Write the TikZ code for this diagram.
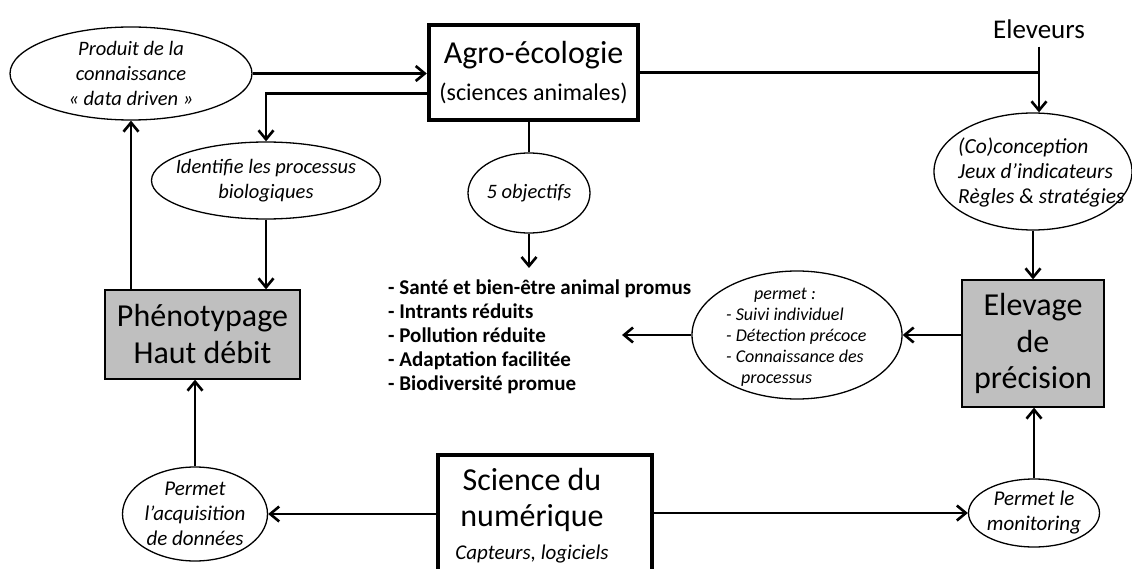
\documentclass[tikz,border=0pt]{standalone}
\usepackage{fontspec}
\setmainfont{Carlito}
\usetikzlibrary{shapes.geometric,arrows.meta}

\begin{document}
\begin{tikzpicture}[x=1pt,y=-1pt,
    >={Straight Barb[length=9pt,width=15pt]},
    fleche/.style={line width=2.6pt},
    bulle/.style={draw,ellipse,line width=1.3pt,inner sep=0pt},
    cadre/.style={draw,line width=4.5pt,inner sep=0pt,align=center},
    gris/.style={draw,fill=black!25,line width=1.3pt,inner sep=0pt,align=center,font=\fontsize{32}{37}\selectfont},
    txt/.style={font=\fontsize{20.5}{25}\selectfont\itshape,align=center,inner sep=0pt}]
        \useasboundingbox (0,0) rectangle (1132,569);

        % the boxes
        \node[cadre, minimum width=209, minimum height=95, font=\fontsize{32}{37}\selectfont] (agro) at (533.5,72.5)
            {Agro-écologie\\{\fontsize{24}{28}\selectfont (sciences animales)}};
        \node[gris, minimum width=195, minimum height=89] (pheno) at (202.5,334.5)
            {Phénotypage\\Haut débit};
        \node[gris, minimum width=142, minimum height=127, font=\fontsize{32}{36.5}\selectfont] (elevage) at (1033,343.5)
            {Elevage\\de\\précision};
        \node[cadre, minimum width=214, minimum height=160] (numerique) at (545,535) {};
        \node[align=center, inner sep=0pt, font=\fontsize{32}{36}\selectfont] (numerique-t) at (532,516)
            {Science du\\numérique\\[-3pt]{\fontsize{21}{24}\selectfont\itshape Capteurs, logiciels}};

        % the ellipses (the texts are put on top of them)
        \node[bulle, minimum width=242, minimum height=93] (produit) at (131,73.5) {};
        \node[txt] (produit-t) at (produit) {Produit de la\\connaissance\\« data driven »};
        \node[bulle, minimum width=229, minimum height=77] (identifie) at (266,180.5) {};
        \node[txt] (identifie-t) at (identifie) {Identifie les processus\\biologiques};
        \node[bulle, minimum width=122, minimum height=80] (objectifs) at (529,193) {};
        \node[txt] (objectifs-t) at (objectifs) {5 objectifs};
        \node[bulle, minimum width=198, minimum height=117] (coconception) at (1033,171.5) {};
        \node[txt, align=left, anchor=west, font=\fontsize{21.5}{25}\selectfont\itshape] (coconception-t) at (958,172)
            {(Co)conception\\Jeux d'indicateurs\\Règles \& stratégies};
        \node[bulle, minimum width=210, minimum height=128] (permet) at (797,335) {};
        \node[txt, align=left, anchor=west, font=\fontsize{18}{21}\selectfont\itshape] (permet-t) at (726,337)
            {\hspace{28pt}permet :\\- Suivi individuel\\- Détection précoce\\- Connaissance des\\\hspace{15pt}processus};
        \node[bulle, minimum width=131, minimum height=68] (monitoring) at (1034,513) {};
        \node[txt, font=\fontsize{21}{25}\selectfont\itshape] (monitoring-t) at (monitoring) {Permet le\\monitoring};
        \node[bulle, minimum width=145, minimum height=94] (acquisition) at (195,514) {};
        \node[txt, font=\fontsize{21}{25}\selectfont\itshape] (acquisition-t) at (acquisition) {Permet\\l’acquisition\\de données};

        % the other texts
        \node[font=\fontsize{27}{30}\selectfont, inner ysep=8pt] (eleveurs) at (1039,29) {Eleveurs};
        \node[align=left, anchor=north west, inner sep=0pt, font=\fontsize{21}{24}\selectfont\bfseries] (liste) at (388,280)
            {- Santé et bien-être animal promus\\- Intrants réduits\\- Pollution réduite\\- Adaptation facilitée\\- Biodiversité promue};
        \coordinate (objectifs-bas) at (529,268);
        \coordinate (liste-droite) at (622,335);

        % draw the arrows
        \draw[fleche,->] (produit.east) -- (produit.east -| agro.west);
        \draw[fleche,->] ([yshift=-21pt]agro.west) -| (identifie.north);
        \draw[fleche,->] (identifie.south) -- (identifie.south |- pheno.north);
        \draw[fleche,->] (pheno.north -| produit.south) -- (produit.south);
        \draw[fleche] (agro.south -| objectifs.north) -- (objectifs.north);
        \draw[fleche,->] (objectifs.south) -- (objectifs-bas);
        \draw[fleche] (agro.east) -- (agro.east -| eleveurs.south);
        \draw[fleche,->] (eleveurs.south) -- (eleveurs.south |- coconception.north);
        \draw[fleche,->] (coconception.south) -- (elevage.north);
        \draw[fleche,->] (elevage.west |- permet) -- (permet.east);
        \draw[fleche,->] (permet.west) -- (liste-droite);
        \draw[fleche,->] (monitoring.north) -- (monitoring.north |- elevage.south);
        \draw[fleche,->] (numerique.east |- monitoring) -- (monitoring.west);
        \draw[fleche,->] (numerique.west |- acquisition) -- (acquisition.east);
        \draw[fleche,->] (acquisition.north) -- (acquisition.north |- pheno.south);

    \end{tikzpicture}
\end{document}
